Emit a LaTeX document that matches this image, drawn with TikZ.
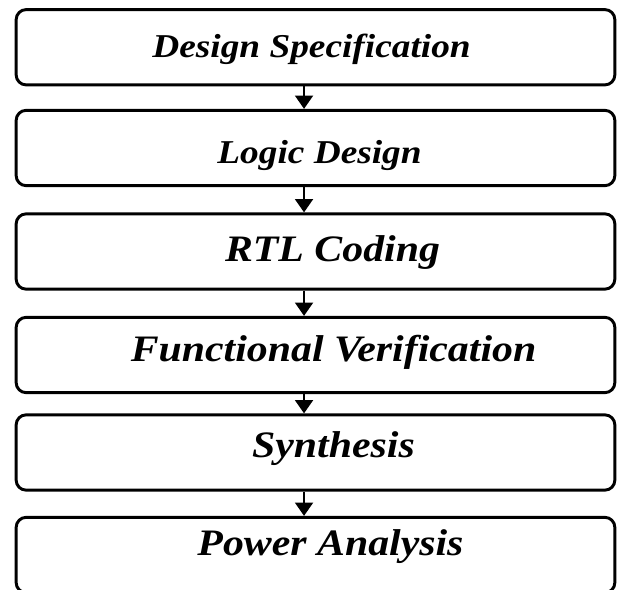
\documentclass[tikz,border=0pt]{standalone}
\usepackage{fontspec}
\setmainfont{Liberation Serif}[FakeStretch=1.12]
\usetikzlibrary{arrows.meta}

\tikzset{every picture/.style={line width=0.75pt}}

\begin{document}
\begin{tikzpicture}[x=0.75pt,y=0.75pt,yscale=-1,xscale=1,
  stage/.style={draw, line width=2.2pt, rounded corners=7.5pt, minimum width=449pt, minimum height=56.5pt, inner sep=0pt},
  tag/.style={anchor=base, inner sep=0pt, font=\fontsize{25}{30}\selectfont\bfseries\itshape},
  bigtag/.style={tag, font=\fontsize{28}{32}\selectfont\bfseries\itshape},
  flow/.style={line width=1.5pt, -{Triangle[width=13.5pt,length=10pt]}}]
%set diagram left start at 0, and has height of 589
\useasboundingbox (0,0) rectangle (621,589);

%Stages of the flow
\node [stage] (spec) at (315.5,47.25) {};
\node [stage] (logic) at (315.5,148) {};
\node [stage] (rtl) at (315.5,251.5) {};
\node [stage] (verif) at (315.5,355) {};
\node [stage] (synth) at (315.5,452.5) {};
\node [stage] (power) at (315.5,555) {};

% Text Nodes
\node [tag] (specText) at ([shift={(-4,10)}]spec.center) {Design Specification};
\node [tag] (logicText) at ([shift={(4,15)}]logic.center) {Logic Design};
\node [bigtag] (rtlText) at ([shift={(17,10)}]rtl.center) {RTL Coding};
\node [bigtag] (verifText) at ([shift={(18,6)}]verif.center) {Functional Verification};
\node [bigtag] (synthText) at ([shift={(18,5)}]synth.center) {Synthesis};
\node [bigtag] (powerText) at ([shift={(15,0)}]power.center) {Power Analysis};

%Arrows between stages
\draw [flow] ([xshift=-8.6pt]spec.south) -- ([xshift=-8.6pt]logic.north);
\draw [flow] ([xshift=-8.6pt]logic.south) -- ([xshift=-8.6pt]rtl.north);
\draw [flow] ([xshift=-8.6pt]rtl.south) -- ([xshift=-8.6pt]verif.north);
\draw [flow] ([xshift=-8.6pt]verif.south) -- ([xshift=-8.6pt]synth.north);
\draw [flow] ([xshift=-8.6pt]synth.south) -- ([xshift=-8.6pt]power.north);

\end{tikzpicture}
\end{document}
